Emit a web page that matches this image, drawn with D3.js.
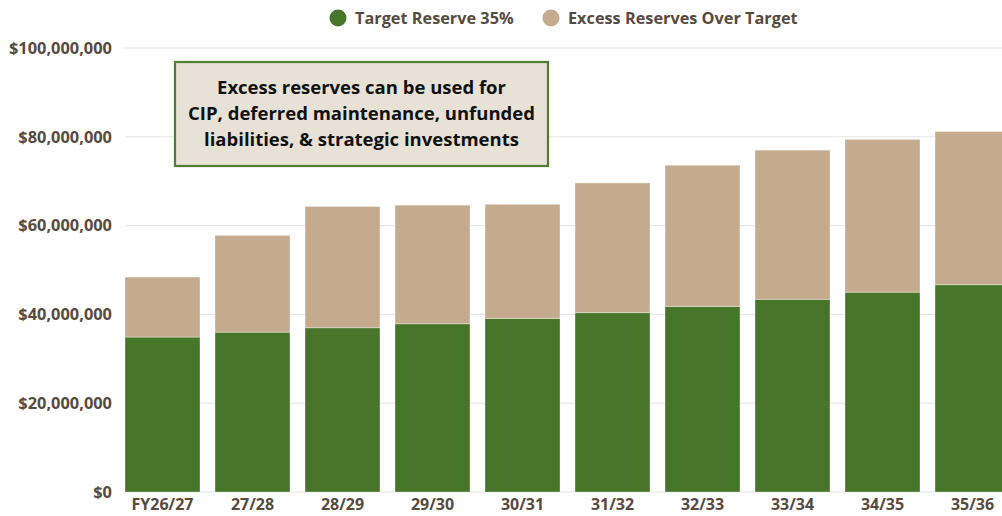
<!DOCTYPE html>
<html><head><meta charset="utf-8">
<script src="https://cdn.jsdelivr.net/npm/d3@7"></script>
<style>
html,body{margin:0;padding:0;background:#fff;overflow:hidden;}
svg{display:block;font-family:"Open Sans","Noto Sans",sans-serif;}
</style></head><body>
<svg id="chart" width="1002" height="516"></svg>
<script>
const categories = ["FY26/27","27/28","28/29","29/30","30/31","31/32","32/33","33/34","34/35","35/36"];
const targetReserve = [34.9, 36.0, 37.0, 37.9, 39.1, 40.4, 41.8, 43.4, 45.0, 46.7]; // $M
const excessReserve = [13.5, 21.8, 27.3, 26.7, 25.7, 29.2, 31.8, 33.6, 34.4, 34.5]; // $M
const yTicks = [0, 20, 40, 60, 80, 100];
const seriesNames = ["Target Reserve 35%", "Excess Reserves Over Target"];
const noteLines = ["Excess reserves can be used for", "CIP, deferred maintenance, unfunded", "liabilities, & strategic investments"];

const colors = ["#47752a", "#c5ab8e"];
const textColor = "#574a3e";
const svg = d3.select("#chart");

const x = d3.scaleBand().domain(categories).range([117.5, 1017.5]).paddingInner(1/6).paddingOuter(1/12);
const y = d3.scaleLinear().domain([0, 100]).range([492, 48]);

// gridlines
svg.append("g").selectAll("line").data(yTicks).join("line")
  .attr("x1", 125).attr("x2", 1002)
  .attr("y1", d => y(d)).attr("y2", d => y(d))
  .attr("stroke", "#e3e3e3").attr("stroke-width", 1);

// y axis
const fmt = d => "$" + d3.format(",")(d * 1e6);
const yAxis = svg.append("g").attr("transform", "translate(112,0)")
  .call(d3.axisLeft(y).tickValues(yTicks).tickFormat(fmt).tickSize(0).tickPadding(0));
yAxis.select(".domain").remove();
yAxis.selectAll("text").attr("fill", textColor).attr("font-size", 16.4).attr("font-weight", 700)
  .attr("font-family", "'Open Sans','Noto Sans',sans-serif");

// x axis
const xAxis = svg.append("g").attr("transform", "translate(0,492)")
  .call(d3.axisBottom(x).tickSize(0).tickPadding(7));
xAxis.select(".domain").remove();
xAxis.selectAll("text").attr("fill", textColor).attr("font-size", 16).attr("font-weight", 700)
  .attr("font-family", "'Open Sans','Noto Sans',sans-serif");

// stacked bars
const rows = categories.map((c, i) => ({cat: c, target: targetReserve[i], excess: excessReserve[i]}));
const stack = d3.stack().keys(["target", "excess"])(rows);
svg.append("g").selectAll("g").data(stack).join("g")
  .attr("fill", (d, i) => colors[i])
  .selectAll("rect").data(d => d).join("rect")
  .attr("x", d => x(d.data.cat))
  .attr("width", x.bandwidth())
  .attr("y", d => y(d[1]))
  .attr("height", d => y(d[0]) - y(d[1]))
  .attr("stroke", "rgba(255,255,255,0.35)").attr("stroke-width", 1);

// legend
const legend = svg.append("g");
const legX = [338, 551];
seriesNames.forEach((n, i) => {
  legend.append("circle").attr("cx", legX[i]).attr("cy", 18).attr("r", 8.5).attr("fill", colors[i]);
  legend.append("text").attr("x", legX[i] + 17).attr("y", 23.8).text(n)
    .attr("fill", textColor).attr("font-size", 16.3).attr("font-weight", 700);
});

// annotation box
const note = svg.append("g");
note.append("rect").attr("x", 175).attr("y", 62).attr("width", 373).attr("height", 104)
  .attr("fill", "#e7e1d6").attr("stroke", "#4f7d32").attr("stroke-width", 2.2);
note.selectAll("text").data(noteLines).join("text")
  .attr("x", 361.5).attr("y", (d, i) => 94 + i * 25.8)
  .attr("text-anchor", "middle").attr("fill", "#111").attr("font-size", 18.5).attr("font-weight", 700)
  .text(d => d);
</script>
</body></html>
